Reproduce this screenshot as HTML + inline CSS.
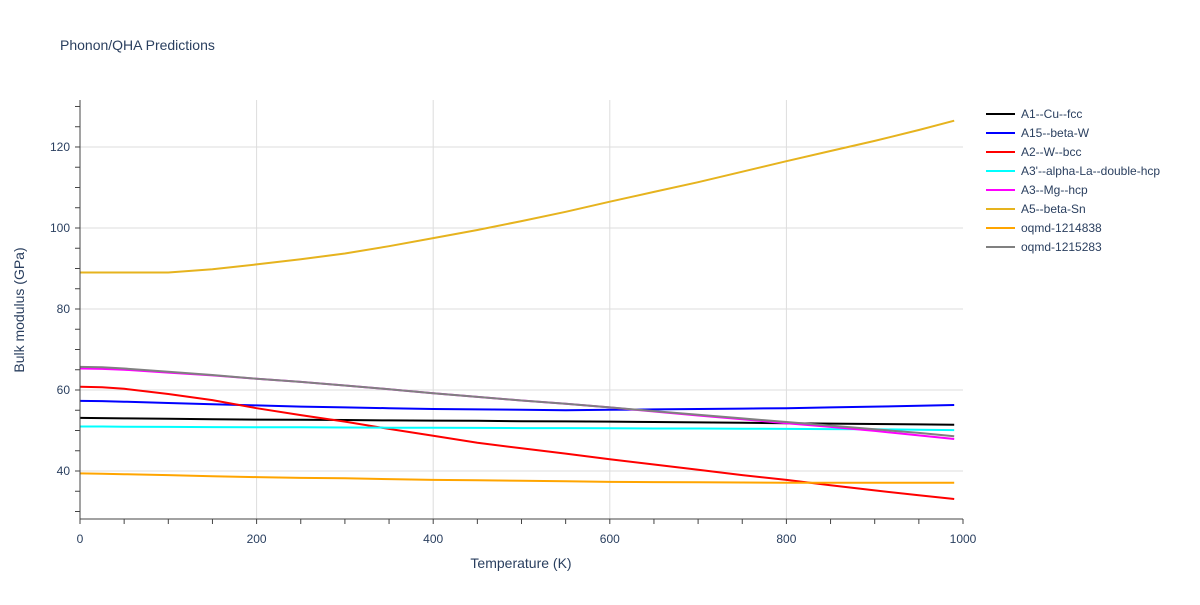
<!DOCTYPE html>
<html><head><meta charset="utf-8"><style>
body{margin:0;background:#fff;font-family:"Liberation Sans",sans-serif}
svg text{font-family:"Liberation Sans",sans-serif;fill:#2a3f5f}
</style></head><body>
<svg id="chart" width="1200" height="600">
<rect width="1200" height="600" fill="#fff"/>
<text x="60" y="50" font-size="14">Phonon/QHA Predictions</text>
<g id="grid"></g><g id="series"></g><g id="axes"></g><g id="legend"></g>
<text x="521" y="568" font-size="14" text-anchor="middle">Temperature (K)</text>
<text transform="translate(24,310) rotate(-90)" font-size="14" text-anchor="middle">Bulk modulus (GPa)</text>
</svg>
<script>
const temps=[0,25,50,100,150,200,250,300,350,400,450,500,550,600,650,700,750,800,850,900,950,990];
const names=["A1--Cu--fcc","A15--beta-W","A2--W--bcc","A3'--alpha-La--double-hcp","A3--Mg--hcp","A5--beta-Sn","oqmd-1214838","oqmd-1215283"];
const colors=["#000000","#0000ff","#ff0000","#00ffff","#ff00ff","#e6b31e","#ffa500","#808080"];
const cu=[53.1,53.05,53.0,52.9,52.8,52.7,52.65,52.6,52.5,52.45,52.4,52.3,52.25,52.2,52.1,52.0,51.9,51.8,51.7,51.6,51.5,51.4];
const w15=[57.3,57.25,57.1,56.8,56.5,56.2,55.9,55.7,55.5,55.3,55.2,55.1,55.0,55.1,55.2,55.3,55.4,55.5,55.7,55.9,56.1,56.3];
const w2=[60.8,60.7,60.3,59.0,57.5,55.5,53.8,52.2,50.4,48.7,47.0,45.6,44.3,42.9,41.6,40.3,39.0,37.8,36.5,35.2,34.0,33.1];
const la=[51.0,51.0,50.95,50.9,50.85,50.8,50.8,50.75,50.7,50.7,50.65,50.6,50.6,50.55,50.5,50.5,50.45,50.4,50.35,50.3,50.2,50.1];
const mg=[65.3,65.2,65.0,64.3,63.6,62.8,62.0,61.1,60.2,59.2,58.3,57.4,56.6,55.7,54.7,53.7,52.8,51.8,50.9,49.9,48.8,47.9];
const sn=[89.0,89.0,89.0,89.0,89.8,91.0,92.3,93.7,95.5,97.5,99.5,101.7,104.0,106.5,108.9,111.3,113.9,116.5,119.0,121.5,124.2,126.5];
const o1=[39.4,39.3,39.2,39.0,38.7,38.5,38.3,38.2,38.0,37.8,37.7,37.6,37.45,37.3,37.25,37.2,37.15,37.1,37.1,37.1,37.1,37.1];
const o2=[65.7,65.6,65.3,64.5,63.7,62.8,62.0,61.1,60.2,59.2,58.3,57.4,56.6,55.7,54.8,53.9,53.0,52.1,51.2,50.3,49.4,48.6];
const seriesVals=[cu,w15,w2,la,mg,sn,o1,o2];
const xTicks=[0,200,400,600,800,1000];
const yTicks=[40,60,80,100,120];
const NS="http://www.w3.org/2000/svg";
const X0=80,X1=963,Ymin=28.15,Ymax=131.6,PY0=519,PY1=100;
const xs=v=>X0+(v/1000)*(X1-X0);
const ys=v=>PY0-(v-Ymin)/(Ymax-Ymin)*(PY0-PY1);
function mk(tag,attrs,parent){const e=document.createElementNS(NS,tag);for(const k in attrs)e.setAttribute(k,attrs[k]);document.getElementById(parent).appendChild(e);return e;}
xTicks.forEach(t=>{
  if(t>0&&t<1000){const g=mk("line",{x1:xs(t),x2:xs(t),y1:PY1,y2:PY0,stroke:"#ddd"},"grid");
  
  }
  const tx=mk("text",{x:xs(t),y:543,"font-size":12,"text-anchor":"middle"},"axes");tx.textContent=t;
  
  
});
yTicks.forEach(t=>{
  const g=mk("line",{x1:X0,x2:X1,y1:ys(t),y2:ys(t),stroke:"#ddd"},"grid");
  
  
  const tx=mk("text",{x:70,y:ys(t)+4,"font-size":12,"text-anchor":"end"},"axes");tx.textContent=t;
  
  
});
for(let t=0;t<=1000;t+=50){mk("line",{x1:xs(t),x2:xs(t),y1:PY0,y2:PY0+5,stroke:"#444"},"axes");}
for(let v=30;v<=130;v+=5){mk("line",{x1:X0-5,x2:X0,y1:ys(v),y2:ys(v),stroke:"#444"},"axes");}
const ax=mk("path",{d:`M${X0},${PY1}V${PY0}H${X1}`,stroke:"#444",fill:"none","stroke-width":1},"axes");


seriesVals.forEach((vals,i)=>{
  const p=mk("path",{d:vals.map((v,j)=>(j?"L":"M")+xs(temps[j]).toFixed(1)+","+ys(v).toFixed(1)).join(""),stroke:colors[i],fill:"none","stroke-width":2},"series");
  
  
  const ly=114+i*19;
  const g=mk("g",{},"legend");
  
  
  const l=document.createElementNS(NS,"line");l.setAttribute("x1",986);l.setAttribute("x2",1015);l.setAttribute("y1",ly);l.setAttribute("y2",ly);l.setAttribute("stroke",colors[i]);l.setAttribute("stroke-width",2);g.appendChild(l);
  const t=document.createElementNS(NS,"text");t.setAttribute("x",1021);t.setAttribute("y",ly+4);t.setAttribute("font-size",12);t.textContent=names[i];g.appendChild(t);
});
</script>
</body></html>
